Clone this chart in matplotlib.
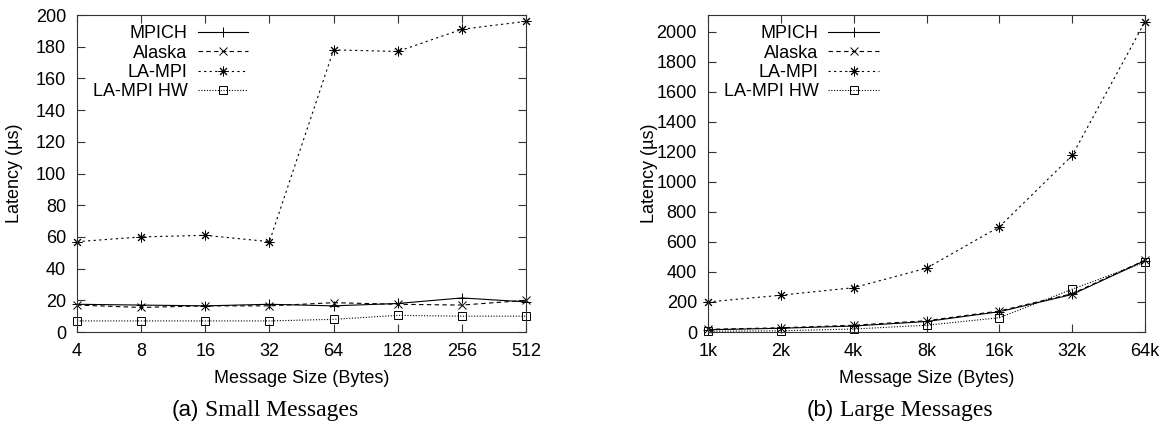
import numpy as np
import matplotlib.pyplot as plt

plt.rcParams['font.family'] = ['Liberation Sans', 'DejaVu Sans']

series = ['MPICH', 'Alaska', 'LA-MPI', 'LA-MPI HW']

small_sizes = ['4', '8', '16', '32', '64', '128', '256', '512']
small_mpich = [17.5, 17, 16.5, 17.5, 16.5, 18, 21.5, 19]
small_alaska = [17, 15.5, 16.5, 16.5, 18.5, 17.5, 17, 20]
small_lampi = [57, 60, 61, 57, 178, 177, 191, 196]
small_lampi_hw = [7, 7, 7, 7, 8, 10.5, 10, 10]

large_sizes = ['1k', '2k', '4k', '8k', '16k', '32k', '64k']
large_mpich = [15, 25, 40, 70, 135, 250, 475]
large_alaska = [18, 28, 45, 75, 140, 255, 478]
large_lampi = [200, 245, 295, 425, 700, 1175, 2065]
large_lampi_hw = [5, 8, 20, 45, 95, 285, 465]

styles = [
    dict(ls='-', marker='+', ms=7.5),
    dict(ls=(0, (4, 3)), marker='x', ms=6),
    dict(ls=(0, (2, 3)), marker=(8, 2, 0), ms=7),
    dict(ls=(0, (1, 1.5)), marker='s', ms=6, mfc='none'),
]

fig = plt.figure(figsize=(11.63, 4.23), dpi=100)
ax1 = fig.add_axes([0.0662, 0.2151, 0.3861, 0.7494])
ax2 = fig.add_axes([0.6088, 0.2151, 0.3757, 0.7494])


def draw(ax, labels, data, ymax, yticks, legx, labx):
    x = np.arange(len(labels))
    for name, vals, st in zip(series, data, styles):
        ax.plot(x, vals, color='black', lw=0.8, mew=0.7, label=name,
                clip_on=False, **st)
    ax.set_xlim(0, len(labels) - 1)
    ax.set_ylim(0, ymax)
    ax.set_xticks(x)
    ax.set_xticklabels(labels)
    ax.set_yticks(yticks)
    ax.tick_params(direction='in', top=True, right=True, length=6,
                   labelsize=13, color='#333333', pad=8)
    for s in ax.spines.values():
        s.set_color('#333333')
    ax.set_xlabel('Message Size (Bytes)', fontsize=13, labelpad=7)
    ax.set_ylabel('Latency (\u00b5s)', fontsize=13)
    ax.yaxis.set_label_coords(labx, 0.5)
    ax.legend(loc='upper right', bbox_to_anchor=(legx, 0.968), frameon=False,
              markerfirst=False, fontsize=13, handlelength=2.8,
              labelspacing=0.135, handletextpad=0.55, borderpad=0,
              borderaxespad=0)


draw(ax1, small_sizes, [small_mpich, small_alaska, small_lampi, small_lampi_hw],
     200, np.arange(0, 201, 20), 0.381, -0.120)
draw(ax2, large_sizes, [large_mpich, large_alaska, large_lampi, large_lampi_hw],
     2110, np.arange(0, 2001, 200), 0.391, -0.114)

serif = ['Liberation Serif', 'DejaVu Serif']
fig.text(0.171, 0.0165, '(a)', ha='right', va='baseline', fontsize=16)
fig.text(0.1763, 0.0165, 'Small Messages', ha='left', va='baseline',
         fontsize=17, family=serif)
fig.text(0.717, 0.0165, '(b)', ha='right', va='baseline', fontsize=16)
fig.text(0.7223, 0.0165, 'Large Messages', ha='left', va='baseline',
         fontsize=17, family=serif)

fig.savefig('out.png', dpi=100)
